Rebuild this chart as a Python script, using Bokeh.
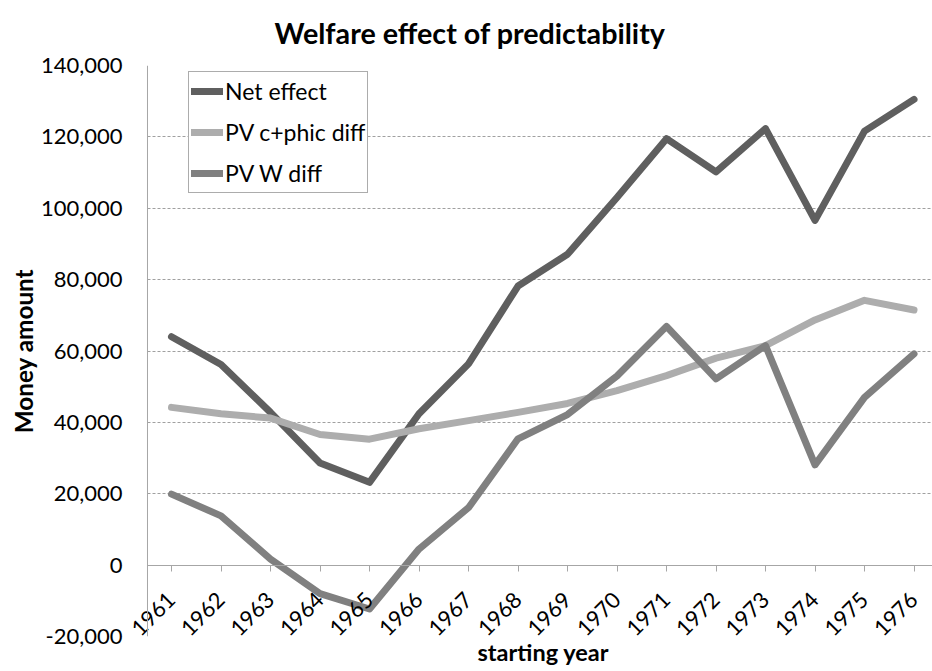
import math
from bokeh.plotting import figure
from bokeh.models import (Range1d, FixedTicker, NumeralTickFormatter, Title,
                          Legend, LegendItem, Span, BoxAnnotation)
from bokeh.embed import file_html
from bokeh.resources import INLINE

# ---- data ----
years = [1961, 1962, 1963, 1964, 1965, 1966, 1967, 1968,
         1969, 1970, 1971, 1972, 1973, 1974, 1975, 1976]
net_effect = [64000, 56200, 42800, 28600, 23200, 42400, 56400, 78200,
              87100, 103000, 119500, 110200, 122300, 96600, 121600, 130500]
pv_c_phic_diff = [44200, 42400, 41200, 36600, 35300, 38200, 40500, 42800,
                  45300, 48900, 53100, 58000, 61500, 68700, 74200, 71500]
pv_w_diff = [19900, 13800, 1700, -8000, -12300, 4500, 16100, 35400,
             42200, 53000, 66900, 52200, 61500, 28100, 47000, 59200]
y_ticks = [-20000, 0, 20000, 40000, 60000, 80000, 100000, 120000, 140000]
series_names = ["Net effect", "PV c+phic diff", "PV W diff"]

FONT = "Lato"
X_AXIS_POS = 1960.515   # vertical axis line: half a category left of 1961
X_START, X_END = 1960.1717, 1976.3737

p = figure(width=932, height=671, output_backend="svg", toolbar_location=None,
           x_range=Range1d(X_START, X_END), y_range=Range1d(-20000, 140000),
           min_border_left=130, min_border_right=0, min_border_top=65,
           min_border_bottom=35)
p.outline_line_color = None
p.background_fill_color = "white"
p.border_fill_color = "white"

# title
p.title.text = "Welfare effect of predictability"
p.title.text_font = FONT
p.title.text_font_size = "28.7px"
p.title.text_font_style = "bold"
p.title.text_color = "black"
p.title.align = "left"
p.title.offset = 144
p.title.vertical_align = "top"
p.title.standoff = 27

# grid
p.xgrid.grid_line_color = None
p.ygrid.ticker = FixedTicker(ticks=y_ticks)
p.ygrid.grid_line_color = "#a0a0a0"
p.ygrid.grid_line_dash = "3 2"
p.ygrid.grid_line_width = 1
try:
    p.ygrid[0].cross_bounds = (X_AXIS_POS, X_END)
except Exception:
    mask = BoxAnnotation(right=X_AXIS_POS, fill_color="white", fill_alpha=1,
                         line_color=None, level="underlay")
    p.add_layout(mask)

# lines
colors = ["#5f5f5f", "#adadad", "#808080"]
renderers = []
for vals, c in zip([net_effect, pv_c_phic_diff, pv_w_diff], colors):
    r = p.line(years, vals, line_color=c, line_width=7, line_cap="round",
               line_join="round")
    renderers.append(r)

# y axis (labels only; its line is drawn at X_AXIS_POS)
yax = p.yaxis[0]
yax.ticker = FixedTicker(ticks=y_ticks)
yax.formatter = NumeralTickFormatter(format="0,0")
yax.major_label_text_font = FONT
yax.major_label_text_font_size = "22px"
yax.major_label_text_color = "black"
yax.major_label_standoff = 8
yax.axis_line_color = None
yax.major_tick_line_color = None
yax.major_tick_in = 0
yax.major_tick_out = 0
yax.minor_tick_line_color = None
yax.axis_label = "Money amount"
yax.axis_label_text_font = FONT
yax.axis_label_text_font_size = "24.3px"
yax.axis_label_text_font_style = "bold"
yax.axis_label_text_color = "black"
yax.axis_label_standoff = 0

p.add_layout(Span(location=X_AXIS_POS, dimension="height",
                  line_color="#a6a6a6", line_width=1))

# x axis crossing at y=0
xax = p.xaxis[0]
xax.fixed_location = 0
xax.bounds = (X_AXIS_POS, X_END)
xax.ticker = FixedTicker(ticks=years)
xax.major_label_orientation = math.pi / 4
xax.major_label_text_font = FONT
xax.major_label_text_font_size = "22px"
xax.major_label_text_color = "black"
xax.major_label_standoff = 25
xax.axis_line_color = "#a6a6a6"
xax.major_tick_line_color = "#a6a6a6"
xax.major_tick_in = 0
xax.major_tick_out = 6
xax.minor_tick_line_color = None

xlab = Title(text="starting year", align="left", offset=347,
             vertical_align="middle", standoff=0, text_font=FONT,
             text_font_size="23.5px", text_font_style="bold", text_color="black")
p.add_layout(xlab, "below")

legend = Legend(items=[LegendItem(label=n, renderers=[r])
                       for n, r in zip(series_names, renderers)],
                location=(58, 443), orientation="vertical")
legend.label_text_font = FONT
legend.label_text_font_size = "23px"
legend.label_text_color = "black"
legend.glyph_width = 32
legend.glyph_height = 34
legend.label_height = 34
legend.label_standoff = 2
legend.padding = 2
legend.spacing = 7
legend.margin = 0
legend.border_line_color = "#595959"
legend.border_line_width = 1
legend.background_fill_alpha = 1
p.add_layout(legend)

open("out.html", "w").write(file_html(p, INLINE))
